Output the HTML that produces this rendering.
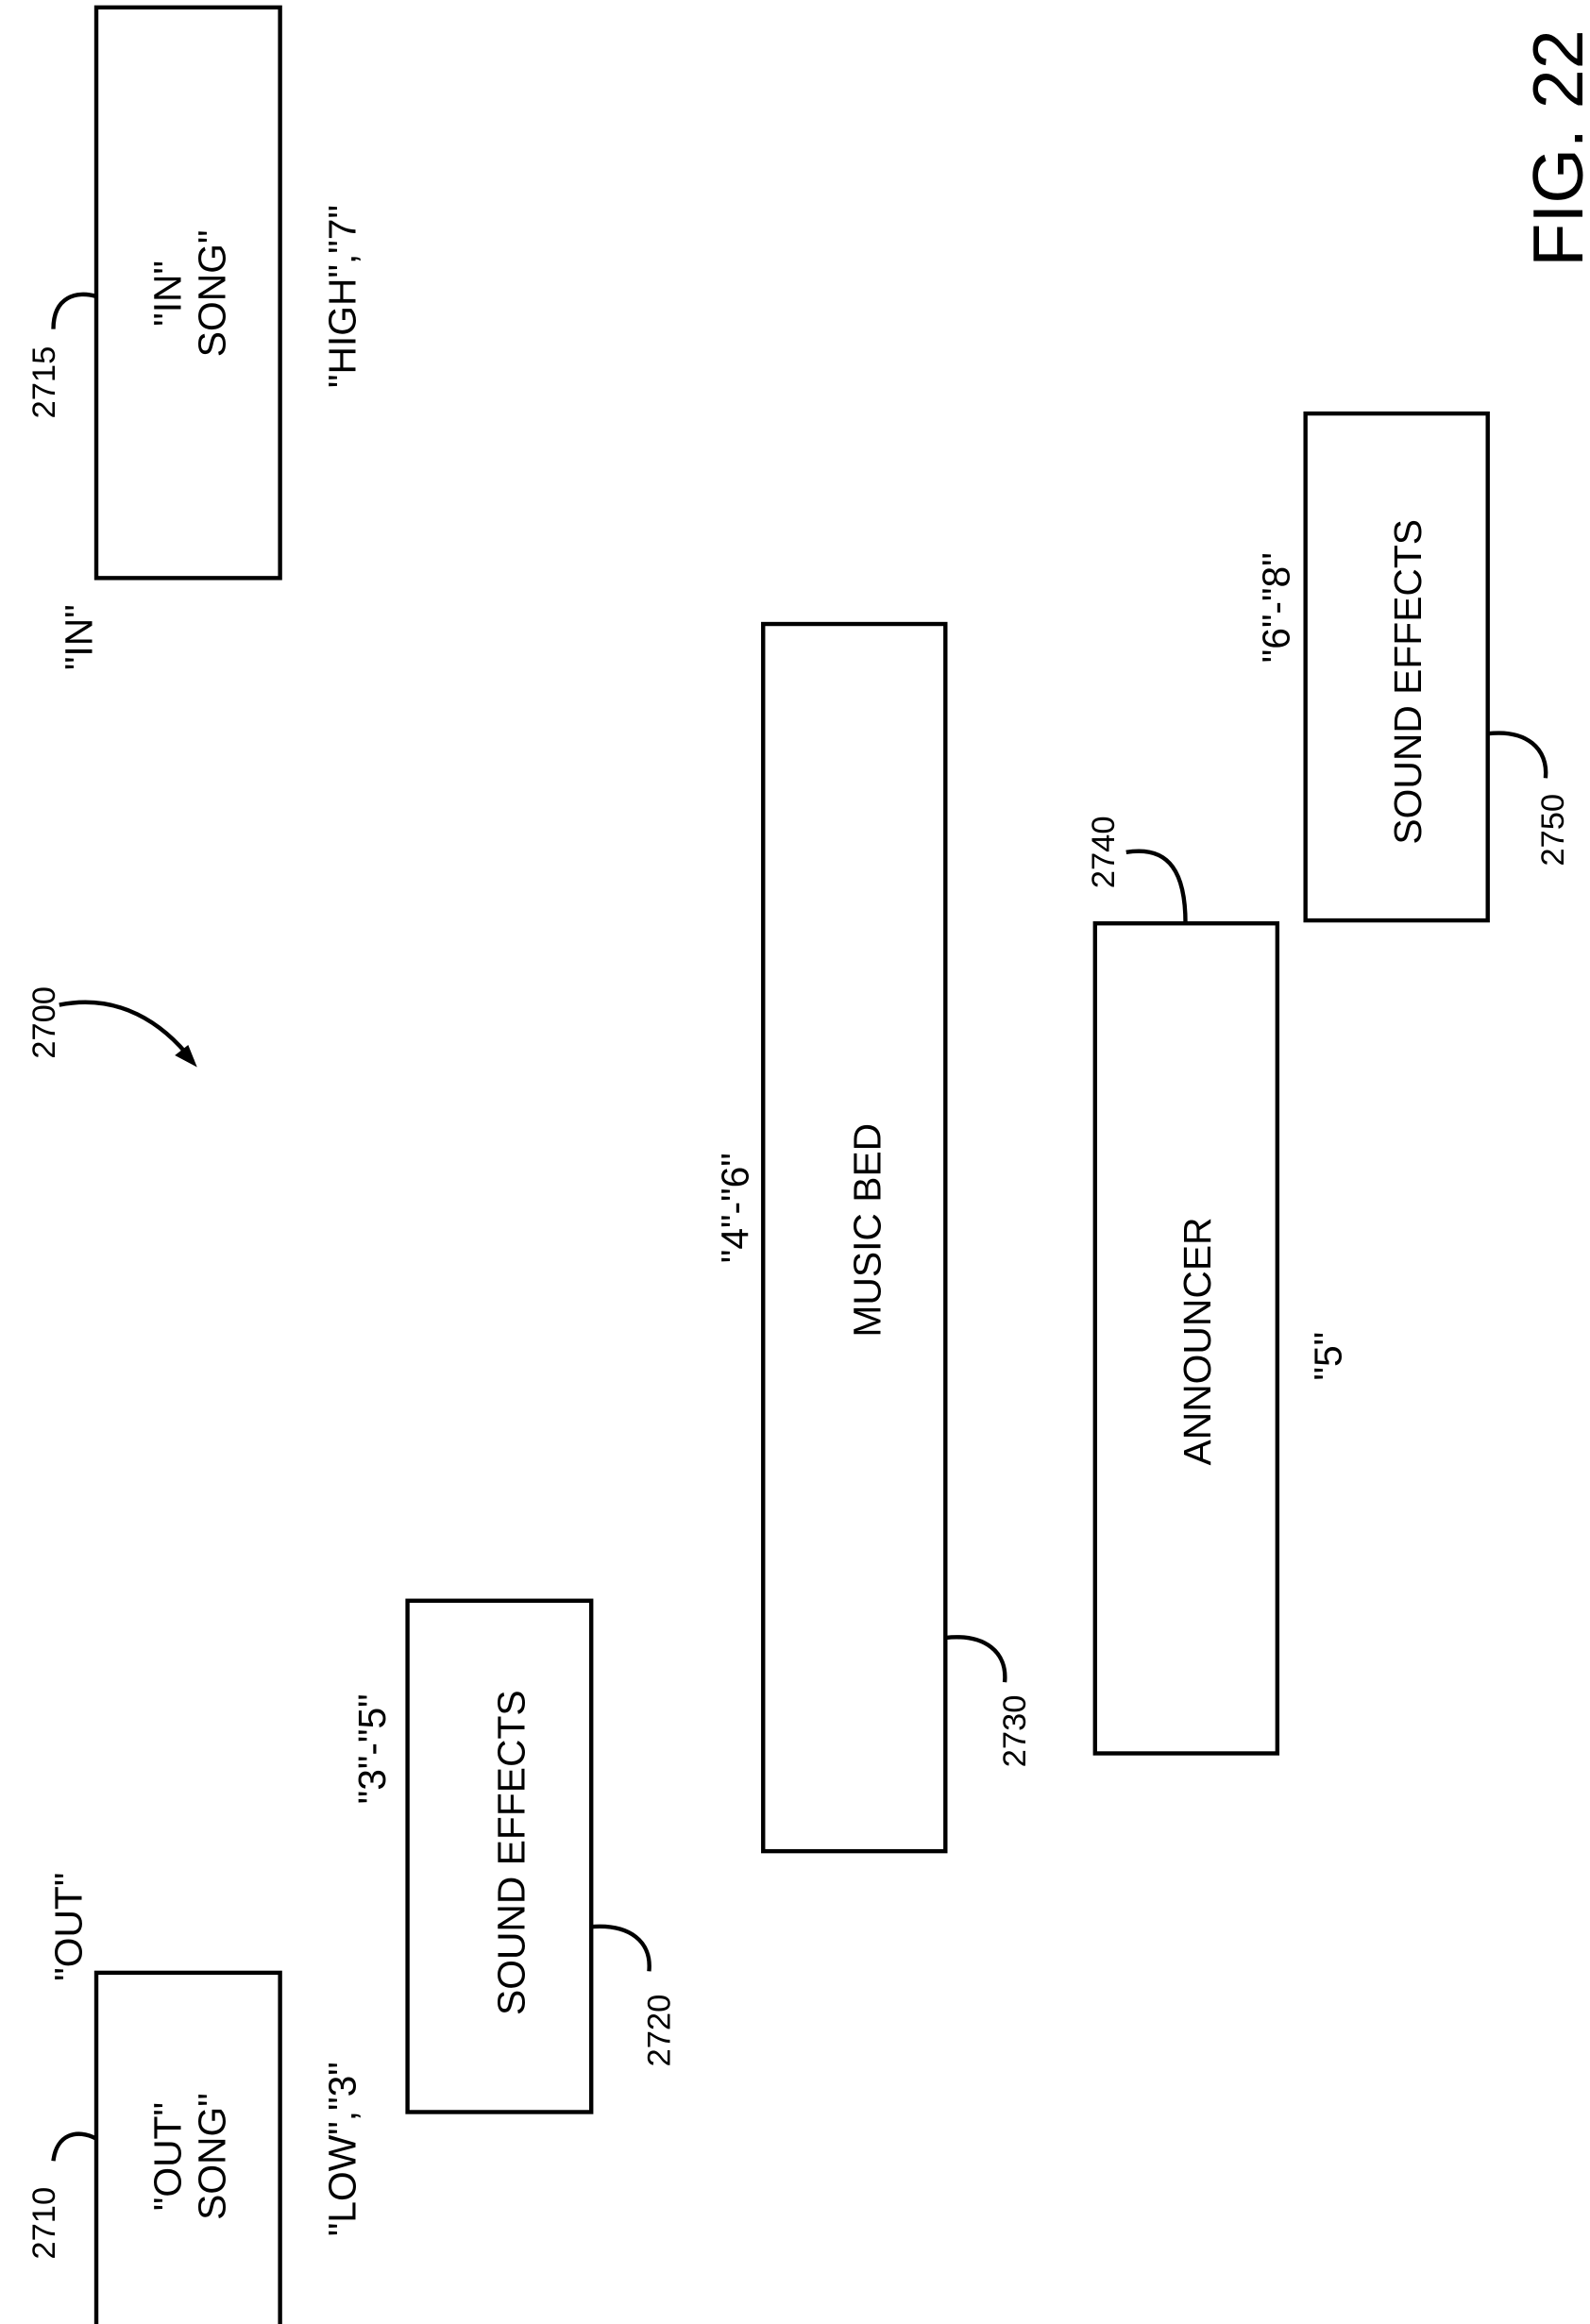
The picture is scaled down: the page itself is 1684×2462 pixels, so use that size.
<!DOCTYPE html>
<html><head><meta charset="utf-8"><style>
html,body{margin:0;padding:0;background:#fff;}
svg{display:block}
text{font-family:"Liberation Sans",sans-serif;fill:#000;}
</style></head><body>
<svg width="1684" height="2462" viewBox="0 0 1073 1568" preserveAspectRatio="none" xmlns="http://www.w3.org/2000/svg">
<g fill="none" stroke="#000" stroke-width="2.8">
<rect x="65" y="5" width="124" height="385"/>
<rect x="65" y="1331" width="124" height="250"/>
<rect x="275" y="1080" width="124" height="345"/>
<rect x="515" y="421" width="123" height="828"/>
<rect x="739" y="623" width="123" height="560"/>
<rect x="881" y="279" width="123" height="342"/>
<path d="M36 222 C36 200 52 196 65 200"/>
<path d="M36 1458 C38 1440 52 1436 65 1443"/>
<path d="M399 1300 C425 1298 440 1310 438 1330"/>
<path d="M638 1105 C665 1102 680 1115 678 1135"/>
<path d="M760 575 C790 570 800 590 800 623"/>
<path d="M1004 495 C1030 492 1045 505 1043 525"/>
<path d="M40 678 C80 670 110 690 130 716"/>
</g>
<path d="M133 720 L118 712 L127 705 Z" fill="#000"/>
<g font-size="26" text-anchor="middle">
<text transform="translate(130,198) rotate(-90)"><tspan x="0" y="-8">"IN"</tspan><tspan x="0" y="22">SONG"</tspan></text>
<text transform="translate(130,1455) rotate(-90)"><tspan x="0" y="-8">"OUT"</tspan><tspan x="0" y="22">SONG"</tspan></text>
<text transform="translate(345,1250) rotate(-90)" y="9">SOUND  EFFECTS</text>
<text transform="translate(585,830) rotate(-90)" y="9">MUSIC  BED</text>
<text transform="translate(808,905) rotate(-90)" y="9">ANNOUNCER</text>
<text transform="translate(950,460) rotate(-90)" y="9">SOUND  EFFECTS</text>
</g>
<g font-size="26" text-anchor="middle">
<text transform="translate(62,430) rotate(-90)">"IN"</text>
<text transform="translate(240,200) rotate(-90)">"HIGH","7"</text>
<text transform="translate(55,1300) rotate(-90)">"OUT"</text>
<text transform="translate(240,1450) rotate(-90)">"LOW","3"</text>
<text transform="translate(260,1180) rotate(-90)">"3"-"5"</text>
<text transform="translate(505,815) rotate(-90)">"4"-"6"</text>
<text transform="translate(905,915) rotate(-90)">"5"</text>
<text transform="translate(870,410) rotate(-90)">"6"-"8"</text>
</g>
<g font-size="22" text-anchor="middle">
<text transform="translate(37,258) rotate(-90)">2715</text>
<text transform="translate(37,690) rotate(-90)">2700</text>
<text transform="translate(37,1500) rotate(-90)">2710</text>
<text transform="translate(452,1370) rotate(-90)">2720</text>
<text transform="translate(692,1168) rotate(-90)">2730</text>
<text transform="translate(752,575) rotate(-90)">2740</text>
<text transform="translate(1055,560) rotate(-90)">2750</text>
</g>
<text transform="translate(1068,100) rotate(-90)" font-size="48" text-anchor="middle">FIG. 22</text>
</svg>
</body></html>
